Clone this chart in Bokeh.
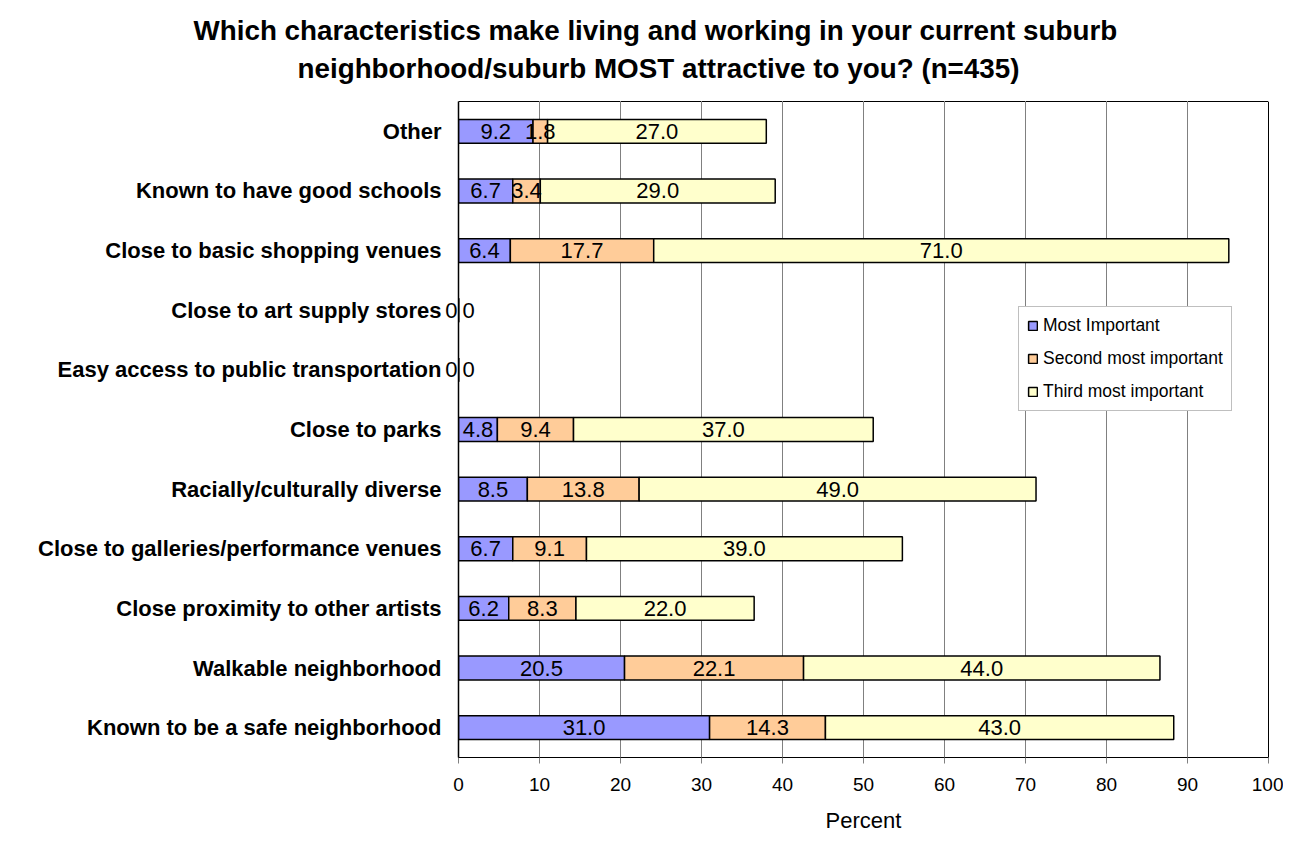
from bokeh.plotting import figure
from bokeh.models import (Range1d, FactorRange, ColumnDataSource, Legend, LegendItem,
                          Title, CategoricalAxis, LinearAxis, FixedTicker)
from bokeh.core.properties import value
from bokeh.embed import file_html
from bokeh.resources import INLINE
import numpy as np

# ---- data (top to bottom as shown) ----
categories = [
    "Other",
    "Known to have good schools",
    "Close to basic shopping venues",
    "Close to art supply stores",
    "Easy access to public transportation",
    "Close to parks",
    "Racially/culturally diverse",
    "Close to galleries/performance venues",
    "Close proximity to other artists",
    "Walkable neighborhood",
    "Known to be a safe neighborhood",
]
most_important = [9.2, 6.7, 6.4, 0, 0, 4.8, 8.5, 6.7, 6.2, 20.5, 31.0]
second_important = [1.8, 3.4, 17.7, 0, 0, 9.4, 13.8, 9.1, 8.3, 22.1, 14.3]
third_important = [27.0, 29.0, 71.0, 0, 0, 37.0, 49.0, 39.0, 22.0, 44.0, 43.0]
series_names = ["Most Important", "Second most important", "Third most important"]
colors = ["#9999FF", "#FFCC99", "#FFFFCC"]
x_ticks = list(range(0, 101, 10))
title_lines = [
    "Which characteristics make living and working in your current suburb",
    "neighborhood/suburb MOST attractive to you? (n=435)",
]

FONT = "Liberation Sans"

vals = np.array([most_important, second_important, third_important], dtype=float)
n = len(categories)
zero_rows = [i for i in range(n) if vals[:, i].sum() == 0]

# labels for the inner axis: "0" where the whole row is zero (kept unique with zero-width spaces)
zero_labels = [("0" if i in zero_rows else "") + "\u200b" * i for i in range(n)]

p = figure(
    width=1283, height=835,
    y_range=FactorRange(factors=list(reversed(categories))),
    x_range=Range1d(0, 100),
    y_axis_location=None,
    output_backend="svg", toolbar_location=None,
    min_border_left=458, min_border_right=15, min_border_top=101, min_border_bottom=78,
)
p.extra_y_ranges = {"zero": FactorRange(factors=list(reversed(zero_labels)))}
p.title = None

# ---- x axis (bottom) ----
xaxis = p.below[0]
xaxis.ticker = x_ticks
xaxis.axis_label = "Percent"
xaxis.axis_label_text_font = FONT
xaxis.axis_label_text_font_style = "normal"
xaxis.axis_label_text_font_size = "22px"
xaxis.axis_label_text_color = "black"
xaxis.axis_label_standoff = 14
xaxis.major_label_text_font = FONT
xaxis.major_label_text_font_size = "19px"
xaxis.major_label_text_color = "black"
xaxis.major_label_standoff = 14
xaxis.major_tick_out = 6
xaxis.major_tick_in = 0
xaxis.minor_tick_line_color = None
xaxis.axis_line_color = "black"
xaxis.major_tick_line_color = "#808080"

# invisible spacer between frame and title
spacer = LinearAxis(ticker=FixedTicker(ticks=x_ticks), axis_line_color=None,
                    major_tick_line_color="white", minor_tick_line_color=None,
                    major_tick_out=16, major_tick_in=0, minor_tick_out=0,
                    major_label_standoff=0, major_label_text_font_size="1px",
                    major_label_text_color=None)
p.add_layout(spacer, "above")

t2 = Title(text=title_lines[1], align="left", offset=-161, text_font=FONT,
           text_font_size="27.8px", text_font_style="bold", text_color="black",
           standoff=4)
t1 = Title(text=title_lines[0], align="left", offset=-265, text_font=FONT,
           text_font_size="27.8px", text_font_style="bold", text_color="black",
           standoff=6)
p.add_layout(t2, "above")
p.add_layout(t1, "above")

keys = ["most", "second", "third"]
src = ColumnDataSource(dict(
    cat=categories,
    most=most_important,
    second=second_important,
    third=third_important,
))
renderers = p.hbar_stack(keys, y="cat", height=0.4, color=colors, source=src,
                         line_color="black", line_width=1.5)
for r, c in zip(renderers, colors):
    r.glyph.fill_color = c
    r.glyph.line_color = "black"

# ---- data labels ----
left = np.vstack([np.zeros(n), np.cumsum(vals, axis=0)[:-1]])
centers = left + vals / 2
lab_x, lab_y, lab_t, lab_off = [], [], [], []
for i, cat in enumerate(categories):
    if i in zero_rows:
        lab_x.append(0.0)
        lab_y.append(cat)
        lab_t.append("0")
        lab_off.append(10)
        continue
    for s in range(3):
        lab_x.append(centers[s, i])
        lab_y.append(cat)
        lab_t.append(f"{vals[s, i]:.1f}")
        lab_off.append(0)
lsrc = ColumnDataSource(dict(x=lab_x, y=lab_y, t=lab_t, off=lab_off))
p.text(x="x", y="y", text="t", x_offset="off", source=lsrc, text_align="center",
       text_baseline="middle", text_font=value(FONT), text_font_size="22px",
       text_color="black")

# ---- y axes: inner axis carries the "0" labels left of the axis line ----
zaxis = CategoricalAxis(y_range_name="zero")
zaxis.major_label_text_font = FONT
zaxis.major_label_text_font_size = "22px"
zaxis.major_label_text_color = "black"
zaxis.major_label_standoff = 1
zaxis.major_tick_line_color = None
zaxis.major_tick_out = 0
zaxis.major_tick_in = 0
zaxis.axis_line_color = "black"
zaxis.axis_line_width = 1.5
p.add_layout(zaxis, "left")

yaxis = CategoricalAxis()
yaxis.major_label_text_font = FONT
yaxis.major_label_text_font_size = "22px"
yaxis.major_label_text_font_style = "bold"
yaxis.major_label_text_color = "black"
yaxis.major_tick_line_color = None
yaxis.major_tick_out = 0
yaxis.major_tick_in = 0
yaxis.major_label_standoff = 1
yaxis.axis_line_color = None
p.add_layout(yaxis, "left")

p.xgrid.grid_line_color = "#808080"
p.ygrid.grid_line_color = None
p.outline_line_color = "black"
p.background_fill_color = "white"
p.border_fill_color = "white"

# ---- legend ----
legend = Legend(
    items=[LegendItem(label=n_, renderers=[r]) for n_, r in zip(series_names, renderers)],
    location=(560, 346),
    label_text_font=FONT, label_text_font_size="17.5px", label_text_color="black",
    glyph_width=11, glyph_height=11, spacing=12, padding=8,
    label_standoff=5, border_line_color="#808080", background_fill_alpha=1,
    margin=0,
)
p.add_layout(legend, "center")

open("out.html", "w").write(file_html(p, INLINE))
